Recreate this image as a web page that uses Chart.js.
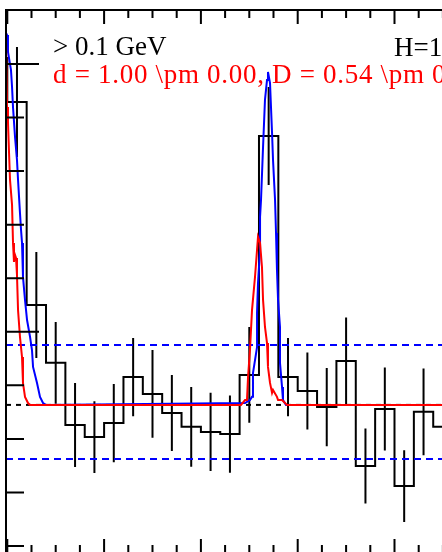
<!DOCTYPE html>
<html>
<head>
<meta charset="utf-8">
<script src="https://cdn.jsdelivr.net/npm/chart.js@4.4.1/dist/chart.umd.min.js"></script>
<style>
  html, body { margin: 0; padding: 0; background: #fff; overflow: hidden; }
</style>
</head>
<body>
<canvas id="fitChart" width="442" height="552"></canvas>
<script>
// histogram: lower bin edges, bin contents and errors
const binWidth = 0.2;
const binLow = [-0.2, 0.0, 0.2, 0.4, 0.6, 0.8, 1.0, 1.2, 1.4, 1.6, 1.8, 2.0,
                2.2, 2.4, 2.6, 2.8, 3.0, 3.2, 3.4, 3.6, 3.8, 4.0, 4.2, 4.4];
const counts = [2.022, 1.858, 1.100, 0.884, 0.652, 0.607, 0.659, 0.831, 0.768, 0.697, 0.645, 0.626,
                0.618, 0.839, 1.731, 0.831, 0.779, 0.719, 0.891, 0.499, 0.712, 0.424, 0.701, 0.645];
const errors = [0.200, 0.205, 0.198, 0.153, 0.157, 0.134, 0.146, 0.146, 0.164, 0.142, 0.149, 0.146,
                0.144, 0.179, 0.183, 0.146, 0.144, 0.146, 0.162, 0.140, 0.155, 0.134, 0.162, 0.149];

// blue fit curve
const blueX = [-0.013, -0.003, 0.007, 0.038, 0.049, 0.059, 0.080, 0.100, 0.111, 0.131, 0.142, 0.152,
               0.162, 0.183, 0.204, 0.235, 0.255, 0.266, 0.307, 0.338, 0.369, 0.400,
               2.456, 2.507, 2.528, 2.538, 2.580, 2.580, 2.590, 2.611, 2.611, 2.621, 2.642, 2.662,
               2.683, 2.693, 2.714, 2.735, 2.745, 2.766, 2.776, 2.786, 2.797, 2.817, 2.817, 2.838,
               2.848, 2.879, 4.600];
const blueY = [2.116, 2.108, 2.045, 1.978, 1.914, 1.839, 1.727, 1.642, 1.567, 1.444, 1.380, 1.332,
               1.205, 1.119, 1.044, 0.981, 0.932, 0.869, 0.809, 0.757, 0.734, 0.727,
               0.734, 0.745, 0.757, 0.846, 0.943, 1.070, 1.182, 1.306, 1.429, 1.492, 1.690, 1.866,
               1.940, 1.970, 1.929, 1.742, 1.642, 1.492, 1.369, 1.231, 1.119, 1.018, 0.884, 0.794,
               0.745, 0.727, 0.727];

// red fit curve
const redX = [-0.013, -0.003, 0.007, 0.018, 0.028, 0.049, 0.059, 0.069, 0.080, 0.090, 0.100, 0.111,
              0.131, 0.152, 0.162, 0.183, 0.214, 0.235,
              2.414, 2.456, 2.476, 2.487, 2.507, 2.528, 2.559, 2.580, 2.590, 2.611, 2.631, 2.642,
              2.662, 2.683, 2.693, 2.714, 2.735, 2.745, 2.786, 2.797, 2.838, 2.890, 4.600];
const redY = [2.071, 1.839, 1.783, 1.668, 1.567, 1.474, 1.332, 1.261, 1.287, 1.276, 1.212, 1.081,
              0.981, 0.906, 0.809, 0.757, 0.734, 0.727,
              0.727, 0.745, 0.745, 0.831, 0.932, 1.081, 1.205, 1.306, 1.354, 1.332, 1.242, 1.119,
              1.018, 0.958, 0.869, 0.809, 0.772, 0.783, 0.757, 0.745, 0.745, 0.727, 0.727];

// reference levels
const baseLevel = 0.727;
const bandLevels = [0.951, 0.525];

// axis ticks
const xTicks = [0, 0.25, 0.5, 0.75, 1, 1.25, 1.5, 1.75, 2, 2.25, 2.5, 2.75, 3, 3.25, 3.5, 3.75, 4, 4.25, 4.5];
const xMajor = [0, 1, 2, 3, 4];
const yTicks = [0.2, 0.4, 0.6, 0.8, 1.0, 1.2, 1.4, 1.6, 1.8, 2.0];
const yMajor = [1.0, 2.0];

// texts
const cutLabel = '> 0.1 GeV';
const hLabel = 'H=1';
const fitLabel = 'd = 1.00 \\pm 0.00, D = 0.54 \\pm 0';

const xMin = -0.0134, xMax = 4.4907;
const yMin = 0.1777, yMax = 2.2016;

// build step outline and error bar segments
const stepData = binLow.map((lo, i) => ({ x: lo, y: counts[i] }));
stepData.push({ x: binLow[binLow.length - 1] + binWidth, y: counts[counts.length - 1] });

const errData = [];
binLow.forEach((lo, i) => {
    const c = lo + binWidth / 2;
    errData.push({ x: c, y: counts[i] - errors[i] });
    errData.push({ x: c, y: counts[i] + errors[i] });
    errData.push({ x: c, y: null });
});

const blueData = blueX.map((x, i) => ({ x: x, y: blueY[i] }));
const redData = redX.map((x, i) => ({ x: x, y: redY[i] }));

function flat(level) {
    return [{ x: xMin, y: level }, { x: xMax + 0.2, y: level }];
}

// frame, inward ticks and labels (ROOT style)
const frameAndText = {
    id: 'frameAndText',
    afterDatasetsDraw(chart) {
        const ctx = chart.ctx;
        const area = chart.chartArea;
        const xs = chart.scales.x, ys = chart.scales.y;
        const frameBottom = area.bottom + 1;
        ctx.save();
        ctx.strokeStyle = '#000';
        ctx.lineWidth = 2;
        ctx.beginPath();
        ctx.moveTo(area.left, frameBottom);
        ctx.lineTo(area.left, area.top);
        ctx.lineTo(area.right + 2, area.top);
        ctx.stroke();

        ctx.beginPath();
        xTicks.forEach(v => {
            const px = xs.getPixelForValue(v);
            if (px > area.right + 1) return;
            const len = xMajor.includes(v) ? 14 : 8;
            ctx.moveTo(px, area.top);
            ctx.lineTo(px, area.top + len);
            ctx.moveTo(px, frameBottom);
            ctx.lineTo(px, frameBottom - len);
        });
        yTicks.forEach(v => {
            const py = ys.getPixelForValue(v);
            const len = yMajor.includes(v) ? 33 : 18;
            ctx.moveTo(area.left, py);
            ctx.lineTo(area.left + len, py);
        });
        ctx.stroke();

        ctx.font = '27px "Liberation Serif"';
        ctx.textBaseline = 'alphabetic';
        ctx.fillStyle = '#000';
        ctx.fillText(cutLabel, 53, 55);
        ctx.fillText(hLabel, 394, 56);
        ctx.fillStyle = '#ff0000';
        if ('letterSpacing' in ctx) {
            ctx.letterSpacing = '0.7px';
            ctx.fillText(fitLabel, 53, 83);
        } else {
            ctx.translate(53, 83);
            ctx.scale(1.06, 1);
            ctx.fillText(fitLabel, 0, 0);
        }
        ctx.restore();
    }
};

const ctx = document.getElementById('fitChart').getContext('2d');
const fitChart = new Chart(ctx, {
    type: 'line',
    data: {
        datasets: [{
            label: 'red fit',
            data: redData,
            borderColor: '#ff0000',
            borderWidth: 2,
            order: 0
        }, {
            label: 'blue fit',
            data: blueData,
            borderColor: '#0000ff',
            borderWidth: 2,
            order: 1
        }, {
            label: 'band high',
            data: flat(bandLevels[0]),
            borderColor: '#0000ff',
            borderWidth: 2,
            borderDash: [7, 5],
            order: 2
        }, {
            label: 'band low',
            data: flat(bandLevels[1]),
            borderColor: '#0000ff',
            borderWidth: 2,
            borderDash: [7, 5],
            order: 2
        }, {
            label: 'baseline',
            data: flat(baseLevel),
            borderColor: '#000',
            borderWidth: 2,
            borderDash: [5, 5],
            order: 3
        }, {
            label: 'histogram',
            data: stepData,
            borderColor: '#000',
            borderWidth: 2,
            stepped: true,
            order: 4
        }, {
            label: 'errors',
            data: errData,
            borderColor: '#000',
            borderWidth: 2,
            spanGaps: false,
            order: 5
        }]
    },
    options: {
        responsive: false,
        animation: false,
        devicePixelRatio: 1,
        layout: { padding: { left: 6, top: 10, right: 0, bottom: 0 } },
        elements: { point: { radius: 0 }, line: { tension: 0, fill: false } },
        plugins: { legend: { display: false }, tooltip: { enabled: false } },
        scales: {
            x: { type: 'linear', min: xMin, max: xMax, display: false },
            y: { type: 'linear', min: yMin, max: yMax, display: false }
        }
    },
    plugins: [frameAndText]
});
</script>
</body>
</html>
